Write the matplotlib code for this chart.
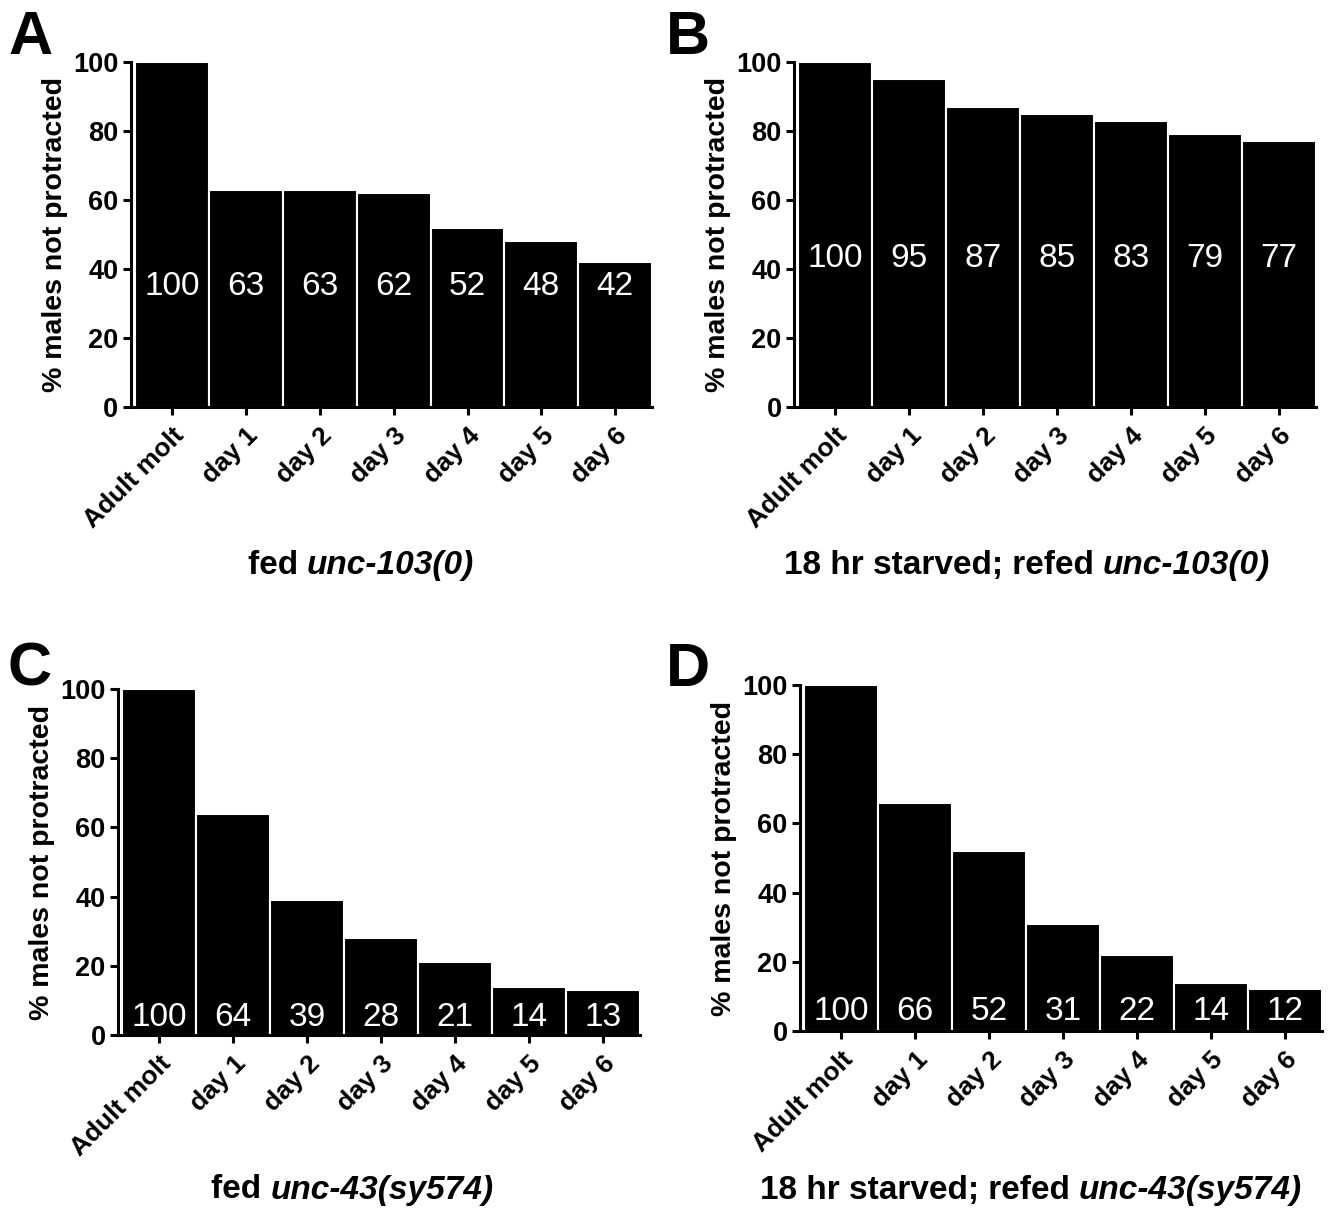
import numpy as np
import matplotlib
matplotlib.use('Agg')
import matplotlib.pyplot as plt

plt.rcParams['font.family'] = ['Liberation Sans', 'DejaVu Sans']

days = ['Adult molt', 'day 1', 'day 2', 'day 3', 'day 4', 'day 5', 'day 6']

fed_103 = [100, 63, 63, 62, 52, 48, 42]
starved_103 = [100, 95, 87, 85, 83, 79, 77]
fed_43 = [100, 64, 39, 28, 21, 14, 13]
starved_43 = [100, 66, 52, 31, 22, 14, 12]

# panel letter, values, where the numbers sit, title (plain part, italic part)
panels = [
    ('A', fed_103, 35, 'fed ', 'unc-103(0)'),
    ('B', starved_103, 43, '18 hr starved; refed ', 'unc-103(0)'),
    ('C', fed_43, 5, 'fed ', 'unc-43(sy574)'),
    ('D', starved_43, 5.5, '18 hr starved; refed ', 'unc-43(sy574)'),
]

W, H = 1332, 1209
# axes boxes in pixels: left, right, top (y=100), bottom (y=0)
boxes = [
    (131, 652, 62, 407),
    (794, 1316, 62, 407),
    (118, 640, 689, 1035),
    (800, 1322, 685, 1031),
]
title_y = [565, 565, 1190, 1190]
title_cx = [361, 1027, 352, 1031]
letter_xy = [(8, 54), (666, 54), (8, 686), (666, 686)]

fig = plt.figure(figsize=(W / 100, H / 100), dpi=100)
renderer = fig.canvas.get_renderer()

for (letter, vals, label_y, t_plain, t_ital), (l, r, t, b), ty, tcx, (lx, ly) in zip(
        panels, boxes, title_y, title_cx, letter_xy):
    ax = fig.add_axes([l / W, 1 - b / H, (r - l) / W, (b - t) / H])
    x = np.arange(len(vals))
    ax.bar(x, vals, width=1.0, color='black', edgecolor='white', linewidth=1.5, clip_on=False)
    for xi, v in zip(x, vals):
        ax.text(xi, label_y, str(v), color='white', ha='center', va='center', fontsize=24)

    ax.set_xlim(-0.56, 6.5)
    ax.set_ylim(0, 100)
    ax.set_yticks([0, 20, 40, 60, 80, 100])
    ax.set_xticks(x)
    ax.set_xticklabels(days, rotation=45, ha='right', rotation_mode='anchor',
                       fontsize=19, fontweight='bold')
    for lab in ax.get_yticklabels():
        lab.set_fontsize(19.5)
        lab.set_fontweight('bold')
    ax.tick_params(axis='both', width=2.2, length=6, pad=3)
    ax.tick_params(axis='x', pad=6)
    for s in ['top', 'right']:
        ax.spines[s].set_visible(False)
    for s in ['left', 'bottom']:
        ax.spines[s].set_linewidth(2.2)
    ax.set_ylabel('% males not protracted', fontsize=20.5, fontweight='bold', labelpad=4)

    # title under the axis, part of it in italics, centred as a whole
    yy = 1 - ty / H
    t1 = fig.text(0, yy, t_plain, fontsize=24, fontweight='bold', ha='left', va='center')
    t2 = fig.text(0, yy, t_ital, fontsize=24, fontweight='bold', style='italic', ha='left', va='center')
    w1 = t1.get_window_extent(renderer).width
    w2 = t2.get_window_extent(renderer).width
    x0 = tcx - (w1 + w2) / 2
    t1.set_x(x0 / W)
    t2.set_x((x0 + w1) / W)

    fig.text(lx / W, 1 - ly / H, letter, fontsize=44, fontweight='bold', ha='left', va='baseline')

fig.savefig('out.png', dpi=100)
